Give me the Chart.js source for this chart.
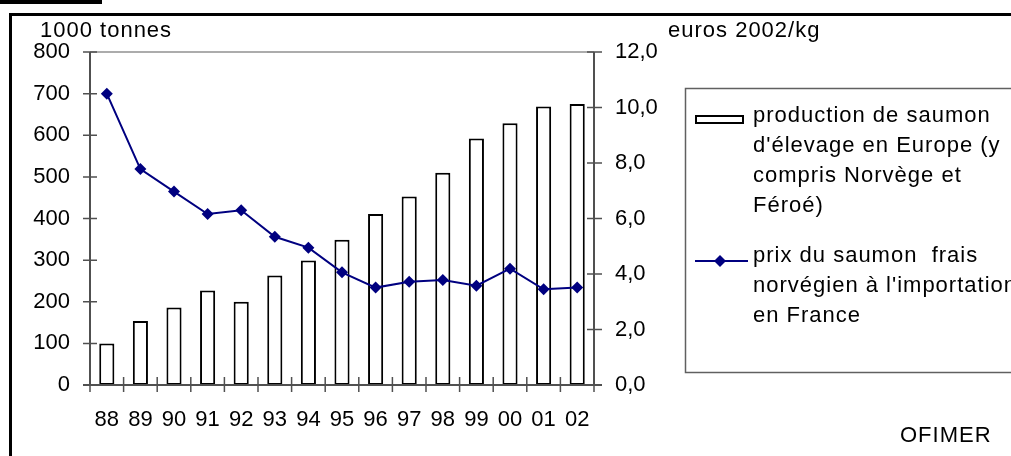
<!DOCTYPE html>
<html>
<head>
<meta charset="utf-8">
<script src="https://cdn.jsdelivr.net/npm/chart.js@4"></script>
<style>
html, body { margin: 0; padding: 0; background: #fff; }
#wrap { position: relative; width: 1011px; height: 456px; }
</style>
</head>
<body>
<div id="wrap"><canvas id="salmonChart"></canvas></div>
<script>
// Values
const years = ['88', '89', '90', '91', '92', '93', '94', '95', '96', '97', '98', '99', '00', '01', '02'];
const production = [100, 154, 186, 227, 200, 263, 299, 349, 411, 453, 510, 592, 629, 669, 675];
const price = [10.5, 7.78, 6.97, 6.16, 6.30, 5.34, 4.95, 4.06, 3.51, 3.72, 3.78, 3.58, 4.19, 3.45, 3.51];
const productionMax = 800;
const productionStep = 100;
const priceMax = 12;
const priceStep = 2;
const productionLegend = ['production de saumon', "d'élevage en Europe (y", 'compris Norvège et', 'Féroé)'];
const priceLegend = ['prix du saumon  frais', "norvégien à l'importation", 'en France'];

const FONT = '"Liberation Sans", Arial, sans-serif';
const NAVY = '#000080';
const AXIS = '#505050';

// Frame, axes with cross ticks, titles and the boxed legend
const decorPlugin = {
    id: 'decor',
    afterDraw(chart) {
        const ctx = chart.ctx;
        const { left, right, top, bottom } = chart.chartArea;
        const yL = chart.scales.y, yR = chart.scales.y1;
        ctx.save();

        // outer frame and the cut off block at the top
        ctx.fillStyle = '#000';
        ctx.fillRect(0, 0, 102, 4);
        ctx.strokeStyle = '#000';
        ctx.lineWidth = 3;
        ctx.beginPath();
        ctx.moveTo(10.5, 456);
        ctx.lineTo(10.5, 14.5);
        ctx.lineTo(1011, 14.5);
        ctx.stroke();

        // plot area top edge
        ctx.strokeStyle = '#909090';
        ctx.lineWidth = 1.5;
        ctx.beginPath();
        ctx.moveTo(left, top);
        ctx.lineTo(right, top);
        ctx.stroke();

        // axis lines
        ctx.strokeStyle = AXIS;
        ctx.lineWidth = 2;
        ctx.beginPath();
        ctx.moveTo(left, top); ctx.lineTo(left, bottom);
        ctx.moveTo(right, top); ctx.lineTo(right, bottom);
        ctx.moveTo(left - 7, bottom); ctx.lineTo(right + 8, bottom);
        ctx.stroke();

        // cross ticks
        ctx.lineWidth = 1.5;
        ctx.beginPath();
        yL.ticks.forEach(t => {
            const py = yL.getPixelForValue(t.value);
            ctx.moveTo(left - 7, py); ctx.lineTo(left + 7, py);
        });
        yR.ticks.forEach(t => {
            const py = yR.getPixelForValue(t.value);
            ctx.moveTo(right - 7, py); ctx.lineTo(right + 8, py);
        });
        const step = (right - left) / years.length;
        for (let i = 0; i <= years.length; i++) {
            const px = left + i * step;
            ctx.moveTo(px, bottom - 8); ctx.lineTo(px, bottom + 7);
        }
        ctx.stroke();

        // texts
        ctx.fillStyle = '#000';
        ctx.font = '22px ' + FONT;
        ctx.letterSpacing = '1px';
        ctx.textBaseline = 'alphabetic';
        ctx.textAlign = 'left';
        ctx.fillText('1000 tonnes', 40, 37);
        ctx.fillText('euros 2002/kg', 668, 37);
        ctx.fillText('OFIMER', 900, 442);

        // legend box
        ctx.strokeStyle = '#606060';
        ctx.lineWidth = 1.5;
        ctx.strokeRect(685.5, 88.5, 400, 284);

        productionLegend.forEach((line, i) => ctx.fillText(line, 753, 122 + i * 30));
        priceLegend.forEach((line, i) => ctx.fillText(line, 753, 262 + i * 30));

        ctx.strokeStyle = '#000';
        ctx.lineWidth = 2;
        ctx.strokeRect(696, 116, 47, 7);

        ctx.strokeStyle = NAVY;
        ctx.beginPath();
        ctx.moveTo(695, 261); ctx.lineTo(748, 261);
        ctx.stroke();
        ctx.fillStyle = NAVY;
        ctx.beginPath();
        ctx.moveTo(720, 255); ctx.lineTo(726, 261); ctx.lineTo(720, 267); ctx.lineTo(714, 261);
        ctx.closePath();
        ctx.fill();

        ctx.restore();
    }
};

new Chart(document.getElementById('salmonChart'), {
    data: {
        labels: years,
        datasets: [{
            type: 'line',
            label: priceLegend.join(' '),
            data: price,
            yAxisID: 'y1',
            borderColor: NAVY,
            backgroundColor: NAVY,
            borderWidth: 2,
            pointStyle: 'rectRot',
            pointRadius: 6,
            pointBorderWidth: 0,
            tension: 0,
            order: 0
        }, {
            type: 'bar',
            label: productionLegend.join(' '),
            data: production,
            yAxisID: 'y',
            backgroundColor: '#fff',
            borderColor: '#000',
            borderWidth: 2,
            borderSkipped: false,
            barPercentage: 0.45,
            categoryPercentage: 1,
            order: 1
        }]
    },
    options: {
        responsive: true,
        maintainAspectRatio: false,
        animation: false,
        layout: { padding: { top: 52, left: 0, right: 317, bottom: 0 } },
        plugins: {
            legend: { display: false },
            tooltip: { enabled: false }
        },
        scales: {
            x: {
                grid: { display: false, drawTicks: false },
                border: { display: false },
                ticks: { color: '#000', font: { family: FONT, size: 22 }, padding: 22, maxRotation: 0, autoSkip: false },
                afterFit: s => { s.height = 71; }
            },
            y: {
                position: 'left',
                min: 0,
                max: productionMax,
                grid: { display: false, drawTicks: false },
                border: { display: false },
                ticks: { stepSize: productionStep, color: '#000', font: { family: FONT, size: 22 }, padding: 20 },
                afterFit: s => { s.width = 90; }
            },
            y1: {
                position: 'right',
                min: 0,
                max: priceMax,
                grid: { display: false, drawTicks: false },
                border: { display: false },
                ticks: {
                    stepSize: priceStep,
                    color: '#000',
                    font: { family: FONT, size: 22 },
                    padding: 21,
                    callback: v => v.toFixed(1).replace('.', ',')
                },
                afterFit: s => { s.width = 100; }
            }
        }
    },
    plugins: [decorPlugin]
});
</script>
</body>
</html>
